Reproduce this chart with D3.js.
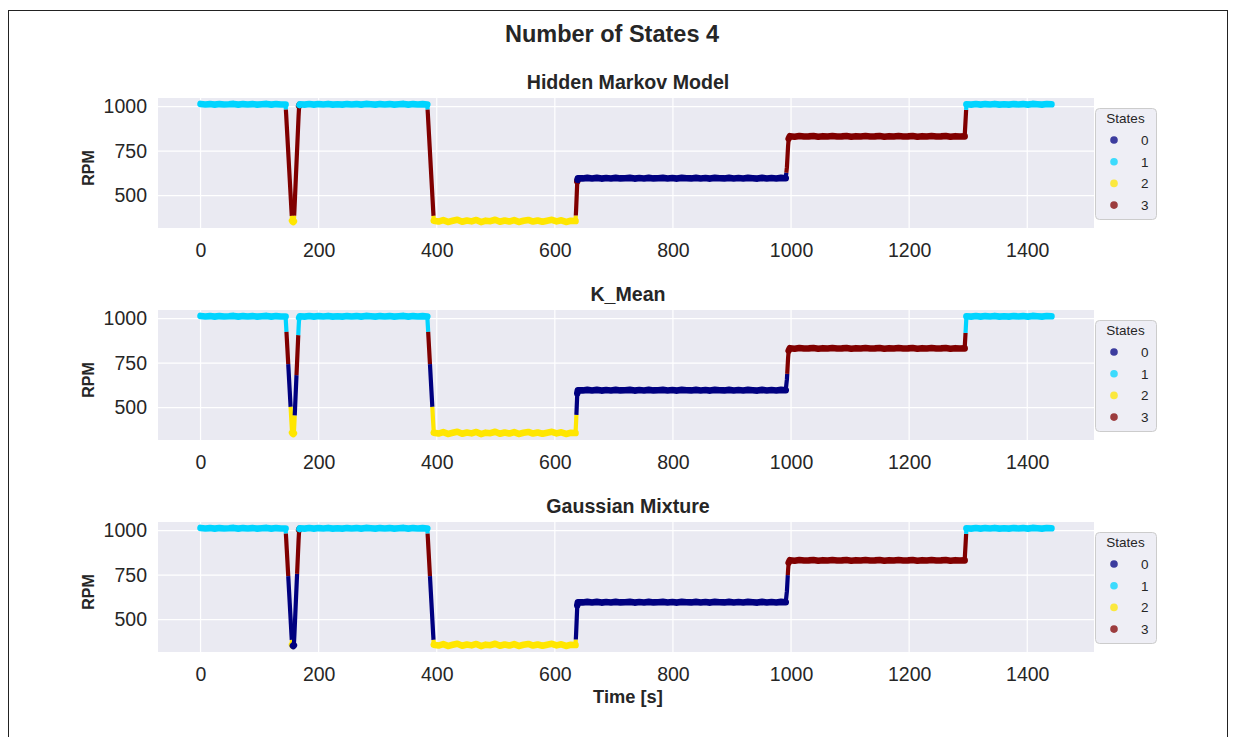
<!DOCTYPE html>
<html><head><meta charset="utf-8">
<script src="https://cdn.jsdelivr.net/npm/d3@7"></script>
<style>
body{margin:0;background:#fff}
text{font-family:"Liberation Sans",Arial,Helvetica,sans-serif;fill:#262626}
</style>
</head><body>
<svg id="chart" width="1236" height="737"></svg>
<script>
// ---------- data ----------
const timeSec = [
  0,8,16,24,32,40,48,56,64,72,80,88,96,104,112,120,128,136,144,
  145,146,147,148,149,150,151,152,153,154,155,156,157,158,159,160,161,162,163,164,165,166,167,
  168,176,184,192,200,208,216,224,232,240,248,256,264,272,280,288,296,304,312,320,328,336,344,352,360,368,376,384,
  385,386,387,388,389,390,391,392,393,394,
  395,403,411,419,427,435,443,451,459,467,475,483,491,499,507,515,523,531,539,547,555,563,571,579,587,595,603,611,619,627,635,
  636,637,638,
  639,647,655,663,671,679,687,695,703,711,719,727,735,743,751,759,767,775,783,791,799,807,815,823,831,839,847,855,863,871,879,887,895,903,911,919,927,935,943,951,959,967,975,983,991,
  993,994,995,996,
  998,1006,1014,1022,1030,1038,1046,1054,1062,1070,1078,1086,1094,1102,1110,1118,1126,1134,1142,1150,1158,1166,1174,1182,1190,1198,1206,1214,1222,1230,1238,1246,1254,1262,1270,1278,1286,1294,
  1295,1296,
  1297,1305,1313,1321,1329,1337,1345,1353,1361,1369,1377,1385,1393,1401,1409,1417,1425,1433,1441
];
const rpm = [
  1015,1012,1014,1011,1014,1012,1013,1015,1011,1014,1012,1014,1011,1013,1015,1011,1014,1012,1012,
  955,895,835,775,715,655,595,535,475,415,360,355,352,356,420,495,570,645,720,795,870,945,1005,
  1013,1011,1014,1011,1014,1012,1015,1011,1013,1011,1014,1012,1014,1011,1015,1013,1011,1014,1012,1014,1011,1013,1015,1011,1014,1012,1014,1012,
  955,895,835,775,715,655,595,535,475,415,
  360,355,363,353,359,365,354,361,356,364,352,360,357,365,354,361,355,363,353,359,364,355,361,354,360,365,356,362,353,359,358,
  420,500,580,
  598,597,600,597,600,596,599,597,600,597,598,600,596,599,597,600,597,598,600,597,599,596,600,598,597,600,597,599,596,600,598,597,600,597,599,597,600,598,596,600,597,599,597,600,598,
  660,720,780,820,
  834,831,835,832,833,835,831,834,832,835,832,833,835,831,834,832,835,832,833,835,831,834,832,835,832,833,835,831,834,832,835,832,833,835,831,834,832,833,
  890,950,
  1013,1011,1014,1011,1014,1012,1015,1011,1013,1011,1014,1012,1014,1011,1015,1013,1011,1014,1013
];
// state runs: [fromTime, toTime, state] (inclusive)
const hmmStates = [[0,144,1],[145,154,3],[155,158,2],[159,167,3],[168,384,1],[385,394,3],[395,635,2],[636,638,3],[639,991,0],[993,1296,3],[1297,1441,1]];
const kmeanStates = [[0,145,1],[146,148,3],[149,152,0],[153,159,2],[160,162,0],[163,165,3],[166,385,1],[386,388,3],[389,392,0],[393,636,2],[637,993,0],[994,1295,3],[1296,1441,1]];
const gmmStates = [[0,144,1],[145,148,3],[149,154,0],[155,156,2],[157,163,0],[164,167,3],[168,384,1],[385,388,3],[389,394,0],[395,635,2],[636,994,0],[995,1296,3],[1297,1441,1]];
const panelTitles = ["Hidden Markov Model","K_Mean","Gaussian Mixture"];
const stateLabels = ["0","1","2","3"];
const stateColors = ["#000080","#00D4FF","#FFE600","#800000"];
const xTicks = [0,200,400,600,800,1000,1200,1400];
const yTicks = [500,750,1000];

// ---------- layout ----------
const svg = d3.select("#chart");
const L = 158, R = 1094, PH = 130;
const tops = [98,310,522];

svg.append("rect").attr("x",8.5).attr("y",10.5).attr("width",1219).attr("height",740)
  .attr("fill","none").attr("stroke","#222").attr("stroke-width",1);

svg.append("text").attr("x",612).attr("y",41.5).attr("text-anchor","middle")
  .attr("font-size",23.5).attr("font-weight","bold").text("Number of States 4");

const tMin = d3.min(timeSec), tMax = d3.max(timeSec);
const rMin = d3.min(rpm), rMax = d3.max(rpm);
const tPad = (tMax - tMin) * 0.05, rPad = (rMax - rMin) * 0.05;
const x = d3.scaleLinear().domain([tMin - tPad, tMax + tPad]).range([L, R]);

function stateAt(runs, t){
  for (const [a,b,s] of runs) if (t >= a && t <= b) return s;
  return 0;
}

[hmmStates, kmeanStates, gmmStates].forEach((runs, pi) => {
  const top = tops[pi];
  const y = d3.scaleLinear().domain([rMin - rPad, rMax + rPad]).range([top + PH, top]);
  const g = svg.append("g");
  g.append("rect").attr("x",L).attr("y",top).attr("width",R-L).attr("height",PH).attr("fill","#EAEAF2");
  // grid
  g.selectAll(".gx").data(xTicks).enter().append("line")
    .attr("x1",d=>x(d)).attr("x2",d=>x(d)).attr("y1",top).attr("y2",top+PH)
    .attr("stroke","#fff").attr("stroke-width",1.2);
  g.selectAll(".gy").data(yTicks).enter().append("line")
    .attr("x1",L).attr("x2",R).attr("y1",d=>y(d)).attr("y2",d=>y(d))
    .attr("stroke","#fff").attr("stroke-width",1.2);
  // axes
  const ax = g.append("g").attr("transform",`translate(0,${top+PH})`)
    .call(d3.axisBottom(x).tickValues(xTicks).tickSize(0).tickPadding(15).tickFormat(d3.format("d")));
  ax.select(".domain").remove();
  ax.selectAll("text").attr("font-size",19.5).attr("fill","#262626");
  const ay = g.append("g").attr("transform",`translate(${L},0)`)
    .call(d3.axisLeft(y).tickValues(yTicks).tickSize(0).tickPadding(11).tickFormat(d3.format("d")));
  ay.select(".domain").remove();
  ay.selectAll("text").attr("font-size",19.5).attr("fill","#262626");
  g.append("text").attr("transform",`translate(94,${top+PH/2+5}) rotate(-90)`)
    .attr("text-anchor","middle").attr("font-size",16).attr("font-weight","bold").text("RPM");
  g.append("text").attr("x",628).attr("y",top-9.5).attr("text-anchor","middle")
    .attr("font-size",19.6).attr("font-weight","bold").text(panelTitles[pi]);

  // data line: split at midpoints between samples for state colouring;
  // plateau segments drawn wider (dense overlapping samples in the original)
  const pts = timeSec.map((t,i)=>({t, v:rpm[i], s:stateAt(runs,t), px:x(t), py:y(rpm[i])}));
  const subs = [];
  for (let i = 0; i < pts.length - 1; i++) {
    const a = pts[i], b = pts[i+1];
    const flat = Math.abs(b.v - a.v) < 30;
    if (a.s === b.s) subs.push({s:a.s, flat, p:[[a.px,a.py],[b.px,b.py]]});
    else {
      const m = [(a.px+b.px)/2, (a.py+b.py)/2];
      subs.push({s:a.s, flat, p:[[a.px,a.py],m]});
      subs.push({s:b.s, flat, p:[m,[b.px,b.py]]});
    }
  }
  const pieces = [];
  subs.forEach(sb => {
    const last = pieces[pieces.length-1];
    if (last && last.s === sb.s && last.flat === sb.flat) last.p.push(sb.p[1]);
    else pieces.push({s:sb.s, flat:sb.flat, p:[sb.p[0], sb.p[1]]});
  });
  const line = d3.line();
  const dg = g.append("g");
  pieces.forEach(pc => {
    dg.append("path").attr("d", line(pc.p)).attr("fill","none")
      .attr("stroke", stateColors[pc.s]).attr("stroke-width", pc.flat ? 6.6 : 4.2)
      .attr("stroke-linejoin","round").attr("stroke-linecap", pc.flat ? "round" : "butt");
  });

  // legend
  const lg = g.append("g");
  const ly = top + 10;
  lg.append("rect").attr("x",1095.5).attr("y",ly+0.5).attr("width",61).attr("height",111).attr("rx",4)
    .attr("fill","#EAEAF2").attr("fill-opacity",0.8).attr("stroke","#cccccc").attr("stroke-width",1);
  lg.append("text").attr("x",1125.5).attr("y",ly+15).attr("text-anchor","middle")
    .attr("font-size",13.5).text("States");
  stateLabels.forEach((lab,i) => {
    const cy = ly + 32 + i*21.7;
    lg.append("circle").attr("cx",1114).attr("cy",cy).attr("r",3.8)
      .attr("fill",stateColors[i]).attr("fill-opacity",0.75);
    lg.append("text").attr("x",1141).attr("y",cy+5).attr("font-size",13.5).text(lab);
  });
});

svg.append("text").attr("x",628).attr("y",702.5).attr("text-anchor","middle")
  .attr("font-size",18.3).attr("font-weight","bold").text("Time [s]");
</script>
</body></html>
